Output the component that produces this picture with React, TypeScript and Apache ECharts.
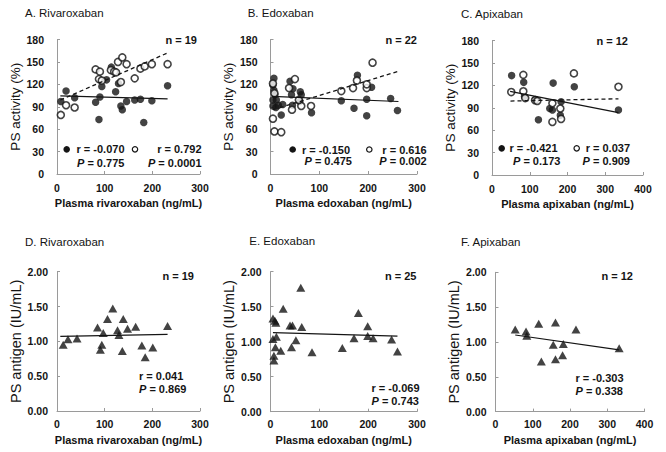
import React, { useEffect, useRef } from "react";
import * as echarts from "echarts";

// ---------- data ----------
const activityTicks = [0, 30, 60, 90, 120, 150, 180];
const antigenTicks = [0, 0.5, 1.0, 1.5, 2.0];
const xTicks300 = [0, 100, 200, 300];
const xTicks400 = [0, 100, 200, 300, 400];

// A. Rivaroxaban – PS activity
const rivaActFilled = [
  [8, 97], [19, 111], [37, 102], [81, 96], [88, 73], [90, 103], [94, 117], [104, 126],
  [114, 143], [123, 110], [129, 121], [134, 91], [137, 86], [146, 97], [163, 99],
  [175, 100], [182, 69], [199, 98], [232, 118],
];
const rivaActOpen = [
  [8, 79], [19, 92], [37, 89], [81, 140], [88, 127], [90, 137], [94, 125], [113, 139],
  [120, 137], [124, 136], [128, 150], [134, 123], [137, 156], [146, 147], [163, 128],
  [175, 141], [184, 144], [199, 147], [232, 147],
];
const rivaActFitFilled = [[7, 104.5], [232, 100.5]];
const rivaActFitOpen = [[7, 99], [232, 162]];

// B. Edoxaban – PS activity
const edoxActFilled = [
  [7, 128], [5, 119], [7, 112], [9, 106], [5, 99], [12, 99], [5, 91], [11, 89], [16, 92],
  [22, 79], [25, 93], [40, 124], [46, 114], [43, 106], [45, 92], [61, 110], [63, 106],
  [60, 97], [84, 82], [145, 98], [171, 88], [178, 132], [197, 100], [197, 78], [207, 116],
  [246, 101], [260, 85],
];
const edoxActOpen = [
  [5, 121], [8, 108], [5, 74], [8, 57], [22, 56], [38, 115], [50, 127], [44, 86], [63, 91],
  [83, 91], [58, 99], [145, 111], [169, 115], [177, 125], [197, 115], [197, 120], [209, 149],
];
const edoxActFitFilled = [[3, 104], [262, 97]];
const edoxActFitOpen = [[5, 86], [262, 137.5]];

// C. Apixaban – PS activity
const apixActFilled = [
  [52, 133], [84, 124], [86, 105], [115, 101], [123, 74], [153, 89], [160, 87], [162, 123],
  [183, 98], [181, 80], [218, 118], [335, 87],
];
const apixActOpen = [
  [51, 111], [83, 134], [83, 112], [88, 103], [114, 100], [120, 99], [160, 96], [160, 71],
  [181, 89], [183, 75], [217, 136], [335, 118],
];
const apixActFitFilled = [[48, 112], [335, 83.5]];
const apixActFitOpen = [[49, 99], [335, 102]];

// D. Rivaroxaban – PS antigen
const rivaAntigen = [
  [13, 0.95], [23, 1.03], [42, 1.04], [85, 1.2], [91, 0.88], [94, 0.95], [97, 1.12],
  [106, 1.32], [117, 1.47], [127, 1.16], [130, 1.09], [137, 0.86], [139, 1.32], [148, 1.18],
  [165, 1.21], [178, 0.94], [185, 0.77], [201, 0.91], [232, 1.22],
];
const rivaAntigenFit = [[7, 1.07], [232, 1.1]];

// E. Edoxaban – PS antigen
const edoxAntigen = [
  [5, 1.33], [9, 1.3], [11, 1.27], [5, 1.04], [7, 0.8], [7, 0.73], [12, 1.07], [10, 0.92],
  [21, 0.87], [26, 1.47], [40, 1.23], [45, 1.23], [43, 0.92], [52, 1.02], [62, 1.77],
  [64, 1.21], [85, 0.85], [147, 0.91], [171, 1.05], [180, 1.41], [199, 1.22], [199, 1.08],
  [210, 1.05], [248, 1.03], [260, 0.86],
];
const edoxAntigenFit = [[5, 1.13], [260, 1.08]];

// F. Apixaban – PS antigen
const apixAntigen = [
  [53, 1.18], [82, 1.15], [84, 1.09], [116, 1.26], [123, 0.72], [155, 0.96], [161, 1.28],
  [161, 0.75], [182, 0.97], [180, 0.81], [216, 1.18], [332, 0.91],
];
const apixAntigenFit = [[53, 1.1], [332, 0.885]];

const titles = ["A. Rivaroxaban", "B. Edoxaban", "C. Apixaban", "D. Rivaroxaban", "E. Edoxaban", "F. Apixaban"];
const xNames = [
  "Plasma rivaroxaban (ng/mL)", "Plasma edoxaban (ng/mL)", "Plasma apixaban (ng/mL)",
  "Plasma rivaroxaban (ng/mL)", "Plasma edoxaban (ng/mL)", "Plasma apixaban (ng/mL)",
];
const yNames = ["PS activity (%)", "PS activity (%)", "PS activity (%)", "PS antigen (IU/mL)", "PS antigen (IU/mL)", "PS antigen (IU/mL)"];
const nLabels = ["n = 19", "n = 22", "n = 12", "n = 19", "n = 25", "n = 12"];
const rFilled = ["r = -0.070", "r = -0.150", "r = -0.421"];
const pFilled = ["0.775", "0.475", "0.173"];
const rOpen = ["r = 0.792", "r = 0.616", "r = 0.037"];
const pOpen = ["0.0001", "0.002", "0.909"];
const rAntigen = ["r = 0.041", "r = -0.069", "r = -0.303"];
const pAntigen = ["0.869", "0.743", "0.338"];

// ---------- layout ----------
const FONT = '"Liberation Sans", Arial, Helvetica, sans-serif';
const INK = "#141414";
const AXIS = "#9a9a9a";

const grids = [
  { left: 57, top: 39.5, width: 143, height: 134.5 },
  { left: 270.5, top: 39.5, width: 146.5, height: 134.5 },
  { left: 492, top: 40.5, width: 151, height: 134.5 },
  { left: 57, top: 271.7, width: 143, height: 139.3 },
  { left: 270.5, top: 271.7, width: 146.5, height: 140 },
  { left: 495.5, top: 272.3, width: 149, height: 139.3 },
];
const titlePos = [[25, 13], [247.7, 13], [461, 13.5], [25, 241.7], [249.3, 241], [461, 241.5]];
const nPos = [[197, 40], [417, 40], [628, 40.5], [194, 276], [416.5, 276], [633, 276]];
const topAnno = [
  { dot1: 66.7, r1: 76.5, dot2: 135, right: 201.5, y1: 149.3, y2: 162.7, p1: 77 },
  { dot1: 292.7, r1: 302, dot2: 369.3, right: 426.7, y1: 149.5, y2: 160.9, p1: 304.5 },
  { dot1: 501.7, r1: 509.5, dot2: 576.7, right: 630, y1: 148.3, y2: 160.7, p1: 513 },
];
const botAnno = [
  { x: 139, y1: 375.7, y2: 389 },
  { x: 371.5, y1: 387.7, y2: 401 },
  { x: 575.5, y1: 377.7, y2: 391 },
];

function App() {
  const ref = useRef<HTMLDivElement>(null);

  useEffect(() => {
    document.body.style.margin = "0";
    if (!ref.current) return;
    const chart = echarts.init(ref.current, null, { renderer: "svg" });

    const xTickSets = [xTicks300, xTicks300, xTicks400, xTicks300, xTicks300, xTicks400];

    const xAxis = grids.map((_, i) => {
      const t = xTickSets[i];
      return {
        type: "value",
        gridIndex: i,
        min: t[0],
        max: t[t.length - 1],
        interval: t[1] - t[0],
        name: xNames[i],
        nameLocation: "middle",
        nameGap: 23,
        nameTextStyle: { fontFamily: FONT, fontSize: 11, fontWeight: "bold", color: INK },
        axisLine: { show: true, onZero: false, lineStyle: { color: AXIS, width: 1 } },
        axisTick: { show: true, inside: true, length: 3, lineStyle: { color: AXIS } },
        axisLabel: { fontFamily: FONT, fontSize: 10.5, fontWeight: "bold", color: INK, margin: i < 3 ? 8 : 7 },
        splitLine: { show: false },
      };
    });

    const yAxis = grids.map((_, i) => {
      const t = i < 3 ? activityTicks : antigenTicks;
      return {
        type: "value",
        gridIndex: i,
        min: t[0],
        max: t[t.length - 1],
        interval: t[1] - t[0],
        name: yNames[i],
        nameLocation: "middle",
        nameGap: i < 3 ? 35 : 34,
        nameTextStyle: { fontFamily: FONT, fontSize: i < 3 ? 13.5 : 14.5, color: INK },
        axisLine: { show: true, onZero: false, lineStyle: { color: AXIS, width: 1 } },
        axisTick: { show: true, inside: true, length: 3, lineStyle: { color: AXIS } },
        axisLabel: {
          fontFamily: FONT, fontSize: 10.5, fontWeight: "bold", color: INK,
          margin: i < 3 ? 13 : 9,
          formatter: i < 3 ? (v: number) => String(v) : (v: number) => v.toFixed(2),
        },
        splitLine: { show: false },
      };
    });

    const filledSeries = (data: number[][], i: number) => ({
      type: "scatter", xAxisIndex: i, yAxisIndex: i, data, symbol: "circle", symbolSize: 7.5,
      itemStyle: { color: INK }, z: 2,
    });
    const openSeries = (data: number[][], i: number) => ({
      type: "scatter", xAxisIndex: i, yAxisIndex: i, data, symbol: "circle", symbolSize: 7,
      itemStyle: { color: "#ffffff", borderColor: INK, borderWidth: 1.6 }, z: 3,
    });
    const triSeries = (data: number[][], i: number) => ({
      type: "scatter", xAxisIndex: i, yAxisIndex: i, data, symbol: "triangle", symbolSize: [9, 8],
      itemStyle: { color: INK }, z: 2,
    });
    const lineSeries = (data: number[][], i: number, dashed: boolean) => ({
      type: "line", xAxisIndex: i, yAxisIndex: i, data, symbol: "none", silent: true,
      lineStyle: { color: INK, width: dashed ? 1.3 : 1.2, type: dashed ? [4, 3] : "solid" }, z: 4,
    });

    const series = [
      filledSeries(rivaActFilled, 0), openSeries(rivaActOpen, 0),
      lineSeries(rivaActFitFilled, 0, false), lineSeries(rivaActFitOpen, 0, true),
      filledSeries(edoxActFilled, 1), openSeries(edoxActOpen, 1),
      lineSeries(edoxActFitFilled, 1, false), lineSeries(edoxActFitOpen, 1, true),
      filledSeries(apixActFilled, 2), openSeries(apixActOpen, 2),
      lineSeries(apixActFitFilled, 2, false), lineSeries(apixActFitOpen, 2, true),
      triSeries(rivaAntigen, 3), lineSeries(rivaAntigenFit, 3, false),
      triSeries(edoxAntigen, 4), lineSeries(edoxAntigenFit, 4, false),
      triSeries(apixAntigen, 5), lineSeries(apixAntigenFit, 5, false),
    ];

    const txt = (text: string, x: number, y: number, align: string, font: any, rich?: any) => ({
      type: "text",
      silent: true,
      style: {
        text, x, y,
        fill: INK,
        align, textAlign: align,
        verticalAlign: "middle", textVerticalAlign: "middle",
        fontFamily: FONT,
        ...font,
        rich,
      },
    });
    const boldFont = { fontSize: 11, fontWeight: "bold" };
    const italicRich = { it: { fontFamily: FONT, fontSize: 11, fontWeight: "bold", fontStyle: "italic", fill: INK } };

    const graphic: any[] = [];
    titles.forEach((t, i) => {
      graphic.push(txt(t, titlePos[i][0], titlePos[i][1], "left", { fontSize: 11.5, fontWeight: "normal" }));
      graphic.push(txt(nLabels[i], nPos[i][0], nPos[i][1], "right", boldFont));
    });
    topAnno.forEach((a, i) => {
      graphic.push({ type: "circle", silent: true, shape: { cx: a.dot1, cy: a.y1, r: 3.3 }, style: { fill: INK } });
      graphic.push({ type: "circle", silent: true, shape: { cx: a.dot2, cy: a.y1, r: 2.7 }, style: { fill: "#fff", stroke: INK, lineWidth: 1.2 } });
      graphic.push(txt(rFilled[i], a.r1, a.y1, "left", boldFont));
      graphic.push(txt(rOpen[i], a.right, a.y1, "right", boldFont));
      graphic.push(txt("{it|P} = " + pFilled[i], a.p1, a.y2, "left", boldFont, italicRich));
      graphic.push(txt("{it|P} = " + pOpen[i], a.right, a.y2, "right", boldFont, italicRich));
    });
    botAnno.forEach((a, i) => {
      graphic.push(txt(rAntigen[i], a.x, a.y1, "left", boldFont));
      graphic.push(txt("{it|P} = " + pAntigen[i], a.x, a.y2, "left", boldFont, italicRich));
    });

    chart.setOption({
      animation: false,
      backgroundColor: "#ffffff",
      textStyle: { fontFamily: FONT },
      grid: grids.map((g) => ({ ...g, containLabel: false, outerBoundsMode: "none" })),
      xAxis,
      yAxis,
      series,
      graphic,
    } as any);

    return () => chart.dispose();
  }, []);

  return <div ref={ref} style={{ width: 666, height: 452, background: "#fff" }} />;
}

export default App;
